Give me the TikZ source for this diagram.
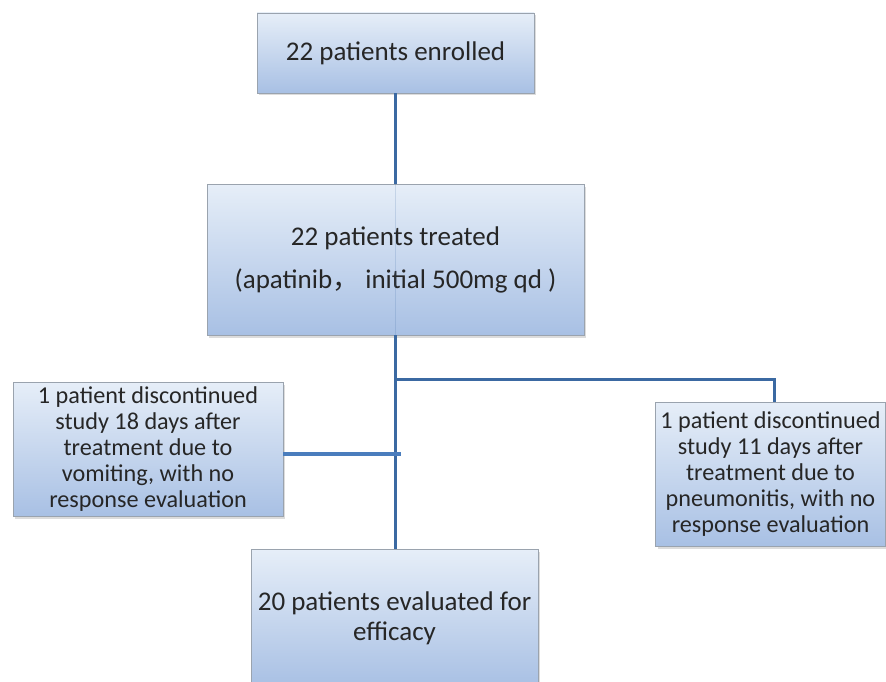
\documentclass[tikz,border=0pt]{standalone}
\usepackage{fontspec}
\setmainfont{Carlito}
\newfontfamily\cjkfont{Noto Sans CJK SC}
\usetikzlibrary{shadows}
\definecolor{boxtop}{HTML}{E6EEF8}
\definecolor{boxbot}{HTML}{A8C0E4}
\definecolor{boxedge}{HTML}{9AA3AE}
\definecolor{linkblue}{HTML}{3B69A2}
\definecolor{linkblue2}{HTML}{4A7DBD}
\definecolor{txt}{HTML}{262626}
\begin{document}
\begin{tikzpicture}[x=1pt,y=-1pt,
  box/.style={draw=boxedge, line width=0.8pt, top color=boxtop, bottom color=boxbot,
    text=txt, align=center, inner sep=0pt,
    drop shadow={shadow xshift=2pt, shadow yshift=-2.5pt, fill=gray!60, opacity=0.45}},
  link/.style={draw=linkblue, line width=3.2pt},
  bigtext/.style={font=\fontsize{27}{32}\selectfont},
  sidetext/.style={font=\fontsize{24.2}{26}\selectfont}]
\clip (0,0) rectangle (886,682);
\node[box, bigtext, minimum width=277pt, minimum height=80pt] (enr) at (395.5,53) {22 patients enrolled};
\node[box, minimum width=377pt, minimum height=151pt, font=\fontsize{27}{43}\selectfont] (trt) at (395.5,259.5)
  {\raisebox{-3pt}{22 patients treated}\\\raisebox{-3pt}{(apatinib{\cjkfont ，}\ initial 500mg qd )}};
\node[box, sidetext, minimum width=270pt, minimum height=134pt] (lft) at (148,449)
  {1 patient discontinued\\study 18 days after\\treatment due to\\vomiting, with no\\response evaluation};
\node[box, sidetext, minimum width=230pt, minimum height=144pt] (rgt) at (770.5,474)
  {1 patient discontinued\\study 11 days after\\treatment due to\\pneumonitis, with no\\response evaluation};
\node[box, minimum width=287pt, minimum height=138pt, font=\fontsize{27}{30}\selectfont] (eva) at (394.5,618)
  {20 patients evaluated for\\efficacy};
% faint line visible through the treated box
\draw[linkblue, line width=0.6pt, opacity=0.18] (trt.north) -- (trt.south);
\coordinate (br) at (395.5,379.5);
\coordinate (rj) at (774.5,379.5);
\coordinate (lj) at (401,454);
\draw[link] (enr.south) -- (trt.north);
\draw[link] (trt.south) -- (trt.south |- eva.north);
\draw[link] (br) -- (rj) -- (rj |- rgt.north);
\draw[draw=linkblue2, line width=3.2pt] (lft.east |- lj) -- (lj);
\end{tikzpicture}
\end{document}
